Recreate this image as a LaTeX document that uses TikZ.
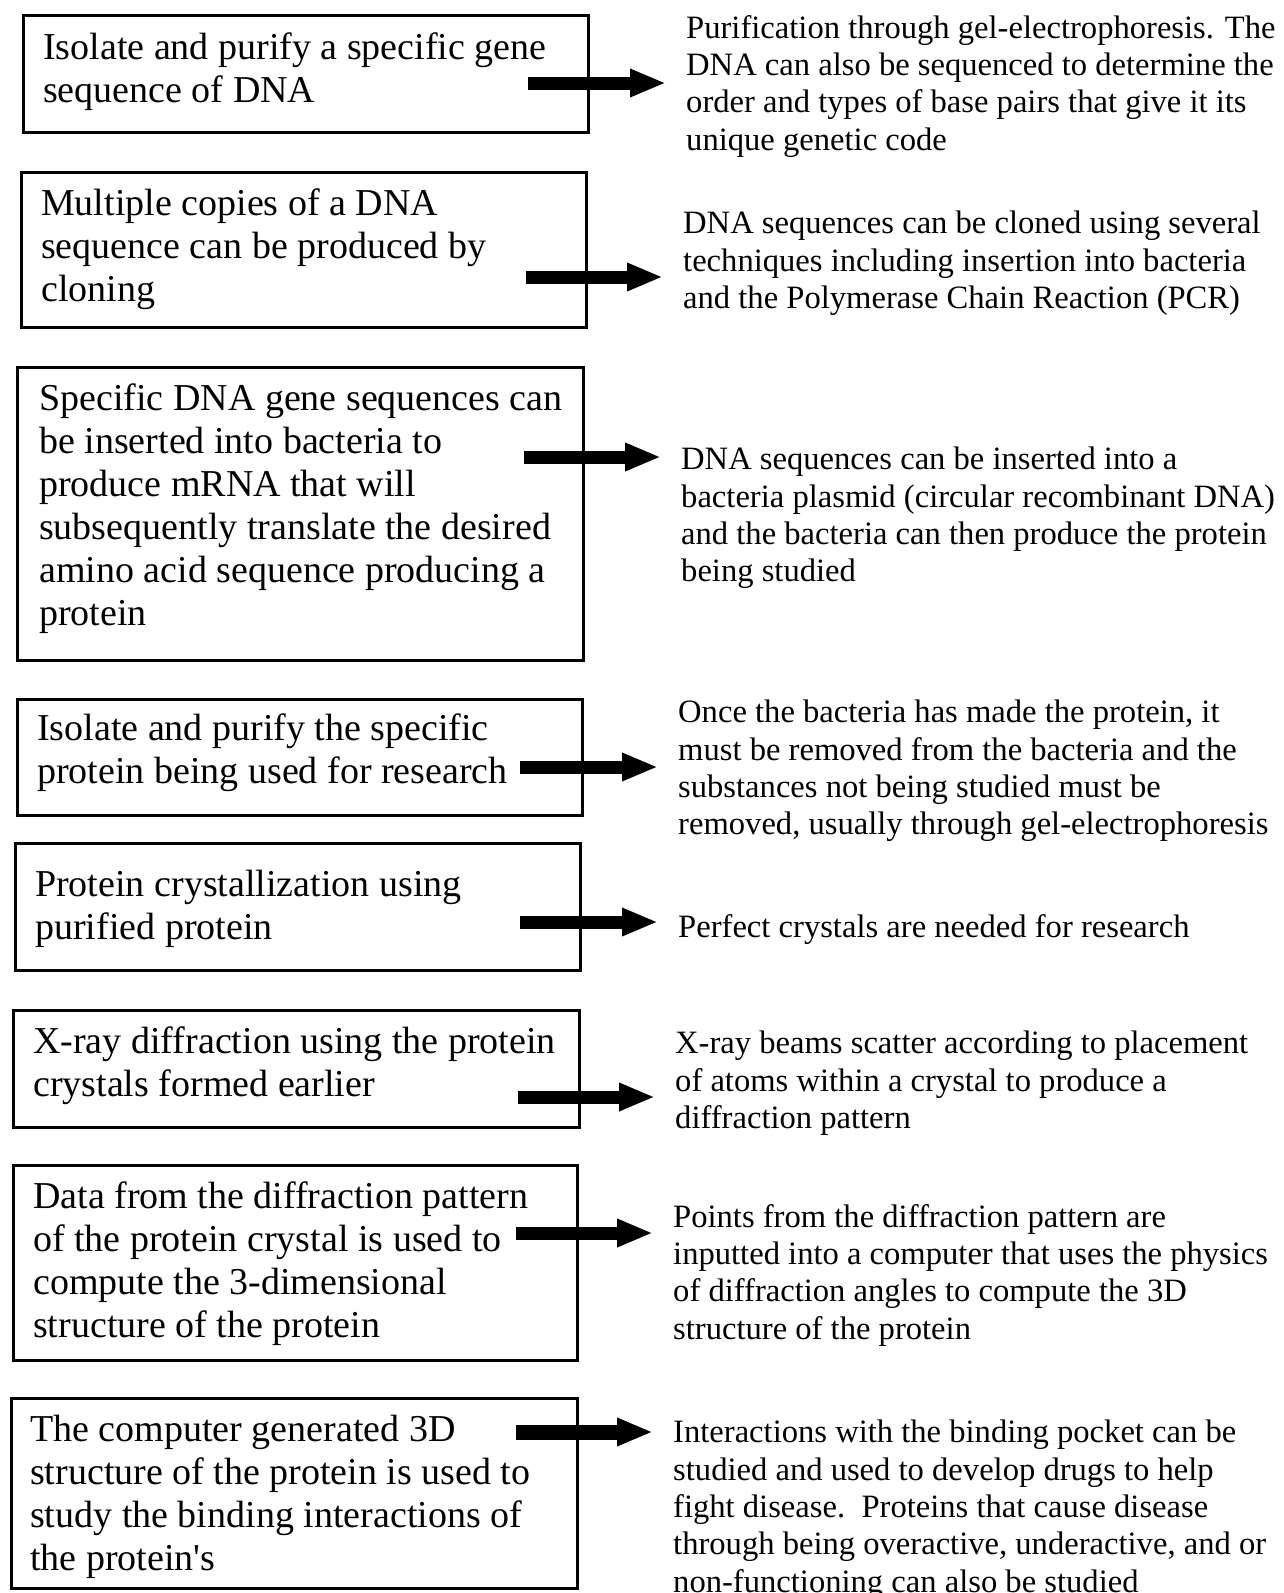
\documentclass[tikz,border=0pt]{standalone}
\usepackage{fontspec}
\setmainfont{Liberation Serif}
\usetikzlibrary{arrows.meta}
\tikzset{
  box/.style={draw=black, line width=2.5pt, rectangle, inner sep=0pt, anchor=north west},
  btxt/.style={anchor=north west, inner sep=0pt, align=left, font={\fontsize{38}{43}\selectfont}},
  rtxt/.style={anchor=north west, inner sep=0pt, align=left, font={\fontsize{32.6}{37.3}\selectfont}},
  bigarrow/.style={line width=13pt, -{Triangle[length=36pt,width=26pt]}, shorten >=20pt}
}
\begin{document}
\begin{tikzpicture}[x=1pt,y=-1pt]
\useasboundingbox[fill=white] (0,0) rectangle (1284,1593);

% boxes
\node[box, minimum width=565pt, minimum height=117pt] (b1) at (22,14) {};
\node[box, minimum width=565pt, minimum height=155pt] (b2) at (20,171) {};
\node[box, minimum width=566pt, minimum height=293pt] (b3) at (16,366) {};
\node[box, minimum width=565pt, minimum height=116pt] (b4) at (16,698) {};
\node[box, minimum width=565pt, minimum height=127pt] (b5) at (14,842) {};
\node[box, minimum width=566pt, minimum height=117pt] (b6) at (12,1009) {};
\node[box, minimum width=564pt, minimum height=195pt] (b7) at (12,1164) {};
\node[box, minimum width=566pt, minimum height=190pt] (b8) at (10,1397) {};

% box texts
\node[btxt] (bt1) at (43,33) {Isolate and purify a specific gene\\sequence of DNA};
\node[btxt] (bt2) at (41,189) {Multiple copies of a DNA\\sequence can be produced by\\cloning};
\node[btxt] (bt3) at (39,384) {Specific DNA gene sequences can\\be inserted into bacteria to\\produce mRNA that will\\subsequently translate the desired\\amino acid sequence producing a\\protein};
\node[btxt] (bt4) at (37,714) {Isolate and purify the specific\\protein being used for research};
\node[btxt] (bt5) at (35,870) {Protein crystallization using\\purified protein};
\node[btxt] (bt6) at (33,1027) {X-ray diffraction using the protein\\crystals formed earlier};
\node[btxt] (bt7) at (33,1182) {Data from the diffraction pattern\\of the protein crystal is used to\\compute the 3-dimensional\\structure of the protein};
\node[btxt] (bt8) at (30,1415) {The computer generated 3D\\structure of the protein is used to\\study the binding interactions of\\the protein\textquotesingle s};

% right texts
\node[rtxt] (t1) at (686,15) {Purification through gel-electrophoresis. The\\DNA can also be sequenced to determine the\\order and types of base pairs that give it its\\unique genetic code};
\node[rtxt] (t2) at (683,211) {DNA sequences can be cloned using several\\techniques including insertion into bacteria\\and the Polymerase Chain Reaction (PCR)};
\node[rtxt] (t3) at (681,447) {DNA sequences can be inserted into a\\bacteria plasmid (circular recombinant DNA)\\and the bacteria can then produce the protein\\being studied};
\node[rtxt] (t4) at (678,700) {Once the bacteria has made the protein, it\\must be removed from the bacteria and the\\substances not being studied must be\\removed, usually through gel-electrophoresis};
\node[rtxt] (t5) at (678,914) {Perfect crystals are needed for research};
\node[rtxt] (t6) at (675,1031) {X-ray beams scatter according to placement\\of atoms within a crystal to produce a\\diffraction pattern};
\node[rtxt] (t7) at (673,1204) {Points from the diffraction pattern are\\inputted into a computer that uses the physics\\of diffraction angles to compute the 3D\\structure of the protein};
\node[rtxt] (t8) at (673,1420) {Interactions with the binding pocket can be\\studied and used to develop drugs to help\\fight disease.\ \ Proteins that cause disease\\through being overactive, underactive, and or\\non-functioning can also be studied};

% arrow start points
\coordinate (s1) at (528,83);
\coordinate (s2) at (526,277);
\coordinate (s3) at (524,457);
\coordinate (s4) at (520,767);
\coordinate (s5) at (520,922);
\coordinate (s6) at (518,1097);
\coordinate (s7) at (516,1233);
\coordinate (s8) at (516,1432);

\draw[bigarrow] (s1) -- (s1 -| t1.west);
\draw[bigarrow] (s2) -- (s2 -| t2.west);
\draw[bigarrow] (s3) -- (s3 -| t3.west);
\draw[bigarrow] (s4) -- (s4 -| t4.west);
\draw[bigarrow] (s5) -- (s5 -| t5.west);
\draw[bigarrow] (s6) -- (s6 -| t6.west);
\draw[bigarrow] (s7) -- (s7 -| t7.west);
\draw[bigarrow, line width=15pt] (s8) -- (s8 -| t8.west);
\end{tikzpicture}
\end{document}
